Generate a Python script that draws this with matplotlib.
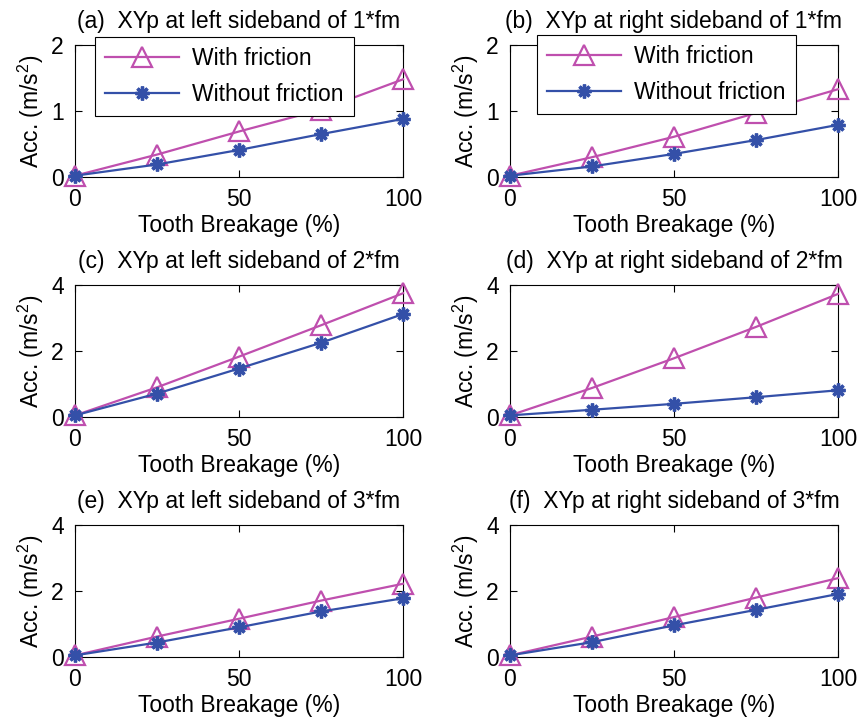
import numpy as np
import matplotlib
matplotlib.use("Agg")
import matplotlib.pyplot as plt

plt.rcParams['font.family'] = ['Liberation Sans', 'DejaVu Sans']
plt.rcParams['mathtext.fontset'] = 'custom'
plt.rcParams['mathtext.rm'] = 'Liberation Sans'

breakage = [0, 25, 50, 75, 100]

titles = [
    "(a)  XYp at left sideband of 1*fm",
    "(b)  XYp at right sideband of 1*fm",
    "(c)  XYp at left sideband of 2*fm",
    "(d)  XYp at right sideband of 2*fm",
    "(e)  XYp at left sideband of 3*fm",
    "(f)  XYp at right sideband of 3*fm",
]

with_friction = [
    [0.02, 0.34, 0.69, 1.02, 1.48],
    [0.02, 0.30, 0.61, 0.97, 1.33],
    [0.05, 0.90, 1.83, 2.78, 3.75],
    [0.05, 0.88, 1.78, 2.73, 3.73],
    [0.05, 0.62, 1.16, 1.71, 2.22],
    [0.05, 0.62, 1.21, 1.80, 2.39],
]
without_friction = [
    [0.02, 0.19, 0.41, 0.65, 0.88],
    [0.02, 0.16, 0.35, 0.56, 0.79],
    [0.05, 0.71, 1.47, 2.25, 3.12],
    [0.05, 0.22, 0.40, 0.60, 0.81],
    [0.05, 0.44, 0.90, 1.38, 1.78],
    [0.05, 0.45, 0.96, 1.43, 1.91],
]
ymax = [2, 2, 4, 4, 4, 4]

magenta = '#BF4FAE'
blue = '#3450A8'
fs = 16.5

fig = plt.figure(figsize=(8.61, 7.19), dpi=100)

lefts = [0.0871, 0.5923]
bottoms = [0.7538, 0.420, 0.0862]
w, h = 0.381, 0.1836

for i in range(6):
    row, col = divmod(i, 2)
    ax = fig.add_axes([lefts[col], bottoms[row], w, h])
    ax.plot(breakage, with_friction[i], color=magenta, lw=1.6, marker='^',
            markersize=14, markerfacecolor='none', markeredgewidth=1.6,
            label='With friction', zorder=3, clip_on=False)
    ax.plot(breakage, without_friction[i], color=blue, lw=1.6, marker=(8, 2, 0),
            markersize=10, markeredgewidth=2.4, label='Without friction',
            zorder=4, clip_on=False)
    ax.set_xlim(0, 100)
    ax.set_ylim(0, ymax[i])
    ax.set_xticks([0, 50, 100])
    ax.set_yticks(np.linspace(0, ymax[i], 3))
    ax.tick_params(direction='in', top=True, right=True, labelsize=fs,
                   length=5, width=0.8, pad=8)
    ax.set_title(titles[i], fontsize=fs, pad=12)
    ax.set_xlabel('Tooth Breakage (%)', fontsize=fs, labelpad=2)
    ax.set_ylabel('Acc. (m/s$^2$)', fontsize=fs, labelpad=4)
    for s in ax.spines.values():
        s.set_linewidth(0.8)
    if i < 2:
        anchor = (0.061, 1.06) if i == 0 else (0.082, 1.076)
        leg = ax.legend(loc='upper left', bbox_to_anchor=anchor, fontsize=fs,
                        frameon=True, fancybox=False, edgecolor='black',
                        framealpha=1, handlelength=3.2, borderpad=0.45,
                        labelspacing=0.55, handletextpad=0.6, borderaxespad=0)
        leg.get_frame().set_linewidth(0.8)
        leg.set_zorder(10)

fig.savefig('out.png', dpi=100)
